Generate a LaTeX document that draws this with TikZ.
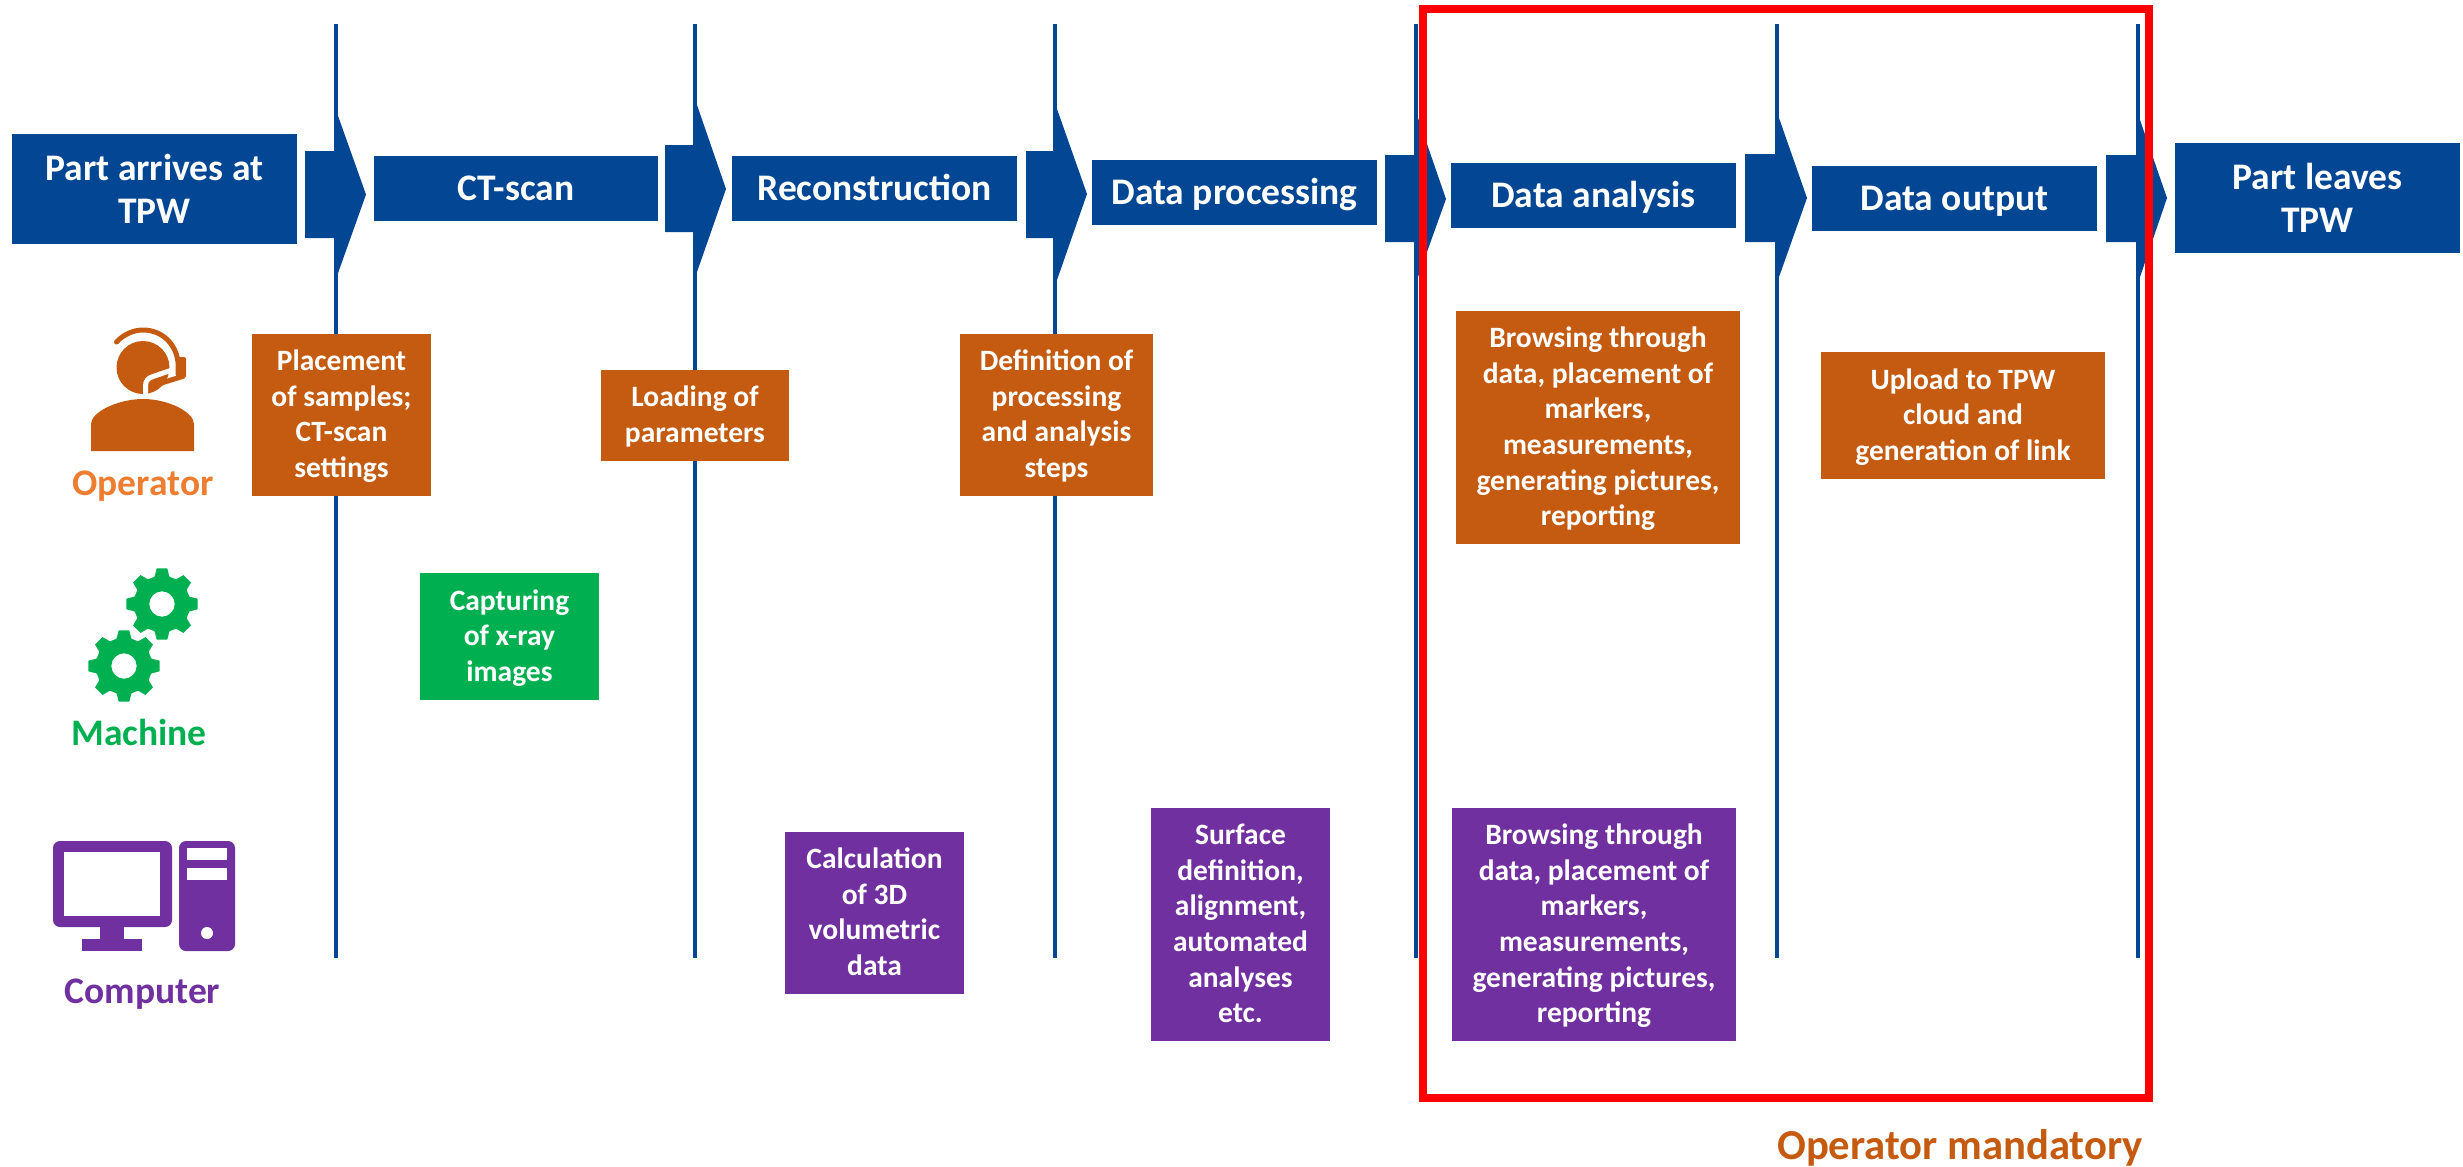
\documentclass[tikz,border=0pt]{standalone}
\usepackage{fontspec}
\setmainfont{Carlito}
\definecolor{flowblue}{HTML}{034694}
\definecolor{opbox}{HTML}{C55A11}
\definecolor{oplabel}{HTML}{ED7D31}
\definecolor{mach}{HTML}{00B050}
\definecolor{comp}{HTML}{7030A0}
\tikzset{
  box/.style={inner sep=0pt,outer sep=0pt,text=white,align=center},
  headbox/.style={box,fill=flowblue,font=\fontsize{37.5}{43}\selectfont\bfseries},
  headone/.style={headbox,text height=23pt,text depth=0pt},
  taskbox/.style={box,font=\fontsize{29.5}{35.6}\selectfont\bfseries},
  sep/.style={draw=flowblue,line width=4pt},
  flowarrow/.style={fill=flowblue},
  actor/.style={inner sep=0pt,anchor=base,font=\fontsize{37.5}{44}\selectfont\bfseries},
  frame/.style={draw=red,line width=8pt,line join=miter},
}
% name, style, x1, y1, x2, y2, text
\newcommand{\rbox}[7]{%
  \pgfmathsetmacro{\bw}{#5-#3}\pgfmathsetmacro{\bh}{#6-#4}%
  \pgfmathsetmacro{\bx}{(#5+#3)/2}\pgfmathsetmacro{\by}{(#6+#4)/2}%
  \node[#2,minimum width=\bw pt,minimum height=\bh pt] (#1) at (\bx,\by) {#7};}
% task box: same, with the first and last line padded so all lines sit evenly
\newcommand{\tbox}[7]{\rbox{#1}{taskbox,#2}{#3}{#4}{#5}{#6}{\rule[-10.7pt]{0pt}{39.6pt}#7\rule[-10.7pt]{0pt}{35.6pt}}}
% x0, ytop, ybot, xbase, headtop, headbot, xtip, ytip
\newcommand{\flowarr}[8]{%
  \fill[flowarrow] (#1,#2) -- (#4,#2) -- (#4,#5) -- (#7,#8) -- (#4,#6) -- (#4,#3) -- (#1,#3) -- cycle;}
\newcommand{\gearicon}[2]{%
  \begin{scope}[shift={(#1,#2)}]
    \fill[mach,even odd rule] (75:28.5)
      \foreach \a in {90,135,...,405}{
        -- (\a-15:28.5) -- (\a-8.5:36) -- (\a+8.5:36) -- (\a+15:28.5)
        -- (\a+22.5:28)
      } -- cycle
      (0,0) circle[radius=12.7];
  \end{scope}}
\begin{document}
\begin{tikzpicture}[x=1pt,y=-1pt]
\useasboundingbox (0,0) rectangle (2463,1167);
% separators
\foreach \n/\x in {a/335.5,b/695,c/1055,d/1416,e/1777,f/2138}{
  \coordinate (\n top) at (\x,24);
  \coordinate (\n bot) at (\x,958);
  \draw[sep] (\n top) -- (\n bot);
}
% chevrons
\flowarr{305}{151}{238}{337}{113}{276}{366}{194.5}
\flowarr{665}{145}{232}{697}{105}{272}{726}{189}
\flowarr{1026}{151}{238}{1057}{109}{280}{1087}{194}
\flowarr{1385}{155}{242}{1418}{118}{277}{1446}{199}
\flowarr{1745}{154}{242}{1779}{118}{277}{1807}{198}
\flowarr{2106}{155}{242}{2140}{120}{277}{2167}{198}
% header boxes
\rbox{arrive}{headbox}{12}{134}{297}{244}{Part arrives at\\TPW}
\rbox{ctscan}{headone}{374}{156}{658}{221}{CT-scan}
\rbox{recon}{headone}{732}{156}{1017}{221}{Reconstruction}
\rbox{proc}{headone}{1092}{160}{1377}{225}{Data processing}
\rbox{analysis}{headone}{1451}{163}{1736}{228}{Data analysis}
\rbox{output}{headone}{1812}{166}{2097}{231}{Data output}
\rbox{leave}{headbox}{2175}{143}{2460}{253}{Part leaves\\TPW}
% task boxes
\tbox{t1}{fill=opbox}{252}{334}{431}{496}{Placement\\of samples;\\CT-scan\\settings}
\tbox{t2}{fill=opbox}{601}{370}{789}{461}{Loading of\\parameters}
\tbox{t3}{fill=opbox}{960}{334}{1153}{496}{Definition of\\processing\\and analysis\\steps}
\tbox{t4}{fill=opbox}{1456}{311}{1740}{544}{Browsing through\\data, placement of\\markers,\\measurements,\\generating pictures,\\reporting}
\tbox{t5}{fill=opbox}{1821}{352}{2105}{479}{Upload to TPW\\cloud and\\generation of link}
\tbox{t6}{fill=mach}{420}{573}{599}{700}{Capturing\\of x-ray\\images}
\tbox{t7}{fill=comp}{785}{832}{964}{994}{Calculation\\of 3D\\volumetric\\data}
\tbox{t8}{fill=comp}{1151}{808}{1330}{1041}{Surface\\definition,\\alignment,\\automated\\analyses\\etc.}
\tbox{t9}{fill=comp}{1452}{808}{1736}{1041}{Browsing through\\data, placement of\\markers,\\measurements,\\generating pictures,\\reporting}
% red frame
\draw[frame] (1423,9) rectangle (2149,1098);
\node[inner sep=0pt,anchor=base,text=opbox,font=\fontsize{42.7}{50}\selectfont\bfseries] (mand) at (1960,1159) {Operator mandatory};
% operator icon
\fill[opbox] (143,367.5) circle[radius=26.5];
\draw[white,line width=5pt] (178,368) -- (153,376.5) .. controls (148,378) and (145.5,381) .. (145.5,386) -- (145.5,396);
\draw[opbox,line width=5pt,line cap=round] (116.5,342) .. controls (124,334) and (134,330) .. (143,330) .. controls (162,330) and (176,344) .. (178,362) -- (178,374);
\fill[opbox,rounded corners=2pt] (177,357) rectangle (186,378);
\draw[opbox,line width=5pt] (184,376) -- (155,385);
\fill[opbox] (154,385.5) circle[radius=4.5];
\fill[opbox] (91,451) -- (91,424) .. controls (91,412) and (118,399) .. (143,399) .. controls (168,399) and (194,412) .. (194,424) -- (194,451) -- cycle;
\node[actor,text=oplabel] (oplab) at (143,495) {Operator};
% gears
\gearicon{162}{604}
\gearicon{124}{666}
\node[actor,text=mach] (machlab) at (139,745) {Machine};
% computer icon
\fill[comp,rounded corners=7pt] (53,841) rectangle (172,927);
\fill[white] (64,852) rectangle (160,916);
\fill[comp] (100,926) rectangle (124,940);
\fill[comp] (82,939) rectangle (142,951);
\fill[comp,rounded corners=7pt] (179,841) rectangle (235,951);
\fill[white] (187,848) rectangle (227,860);
\fill[white] (187,868) rectangle (227,880);
\fill[white] (207,933) circle[radius=6];
\node[actor,text=comp] (complab) at (142.5,1003) {Computer};
\end{tikzpicture}
\end{document}
